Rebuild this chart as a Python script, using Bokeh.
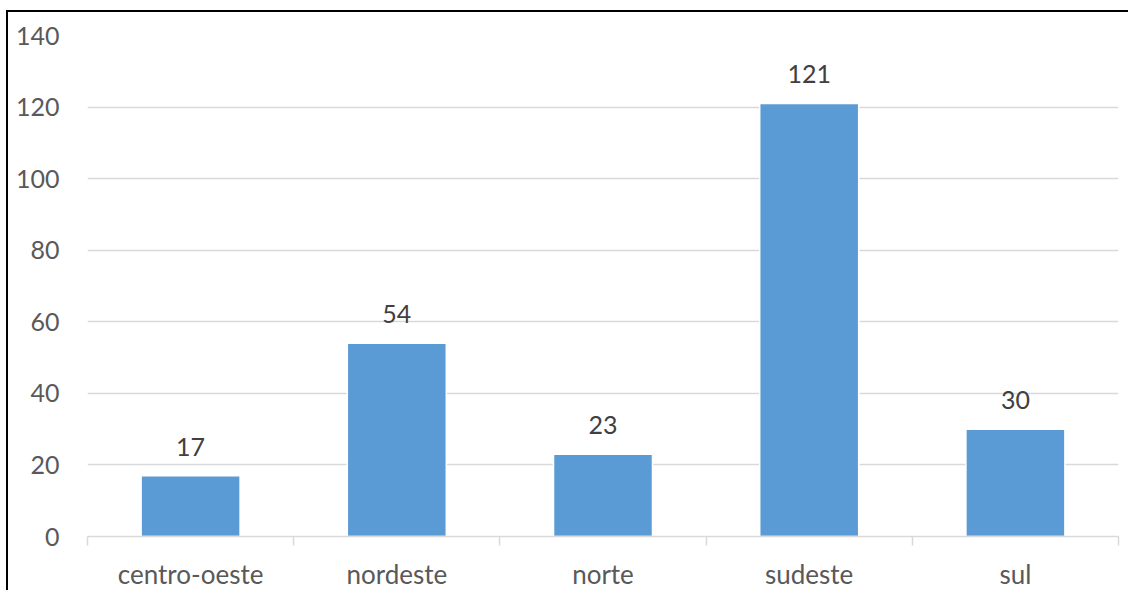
import numpy as np
from bokeh.plotting import figure
from bokeh.models import Range1d, FixedTicker, ColumnDataSource, LabelSet
from bokeh.core.properties import value
from bokeh.embed import file_html
from bokeh.resources import INLINE

categories = ["centro-oeste", "nordeste", "norte", "sudeste", "sul"]
counts = [17, 54, 23, 121, 30]
y_ticks = [0, 20, 40, 60, 80, 100, 120, 140]

FONT = "Lato"
BAR = "#5B9BD5"
GRID = "#D9D9D9"

# chart box starts after a 6px/10px offset with a 2px black left/top border
W, H = 1122, 580
ML, MR, MT, MB = 79, 12, 23, 55

xpos = np.arange(len(categories)) + 0.5
src = ColumnDataSource(dict(x=xpos, top=counts, lab=[str(c) for c in counts]))

p = figure(width=W, height=H, output_backend="svg", toolbar_location=None,
           x_range=Range1d(0, len(categories)), y_range=Range1d(0, 140))
p.styles = {"margin-left": "6px", "margin-top": "10px",
            "border-left": "2px solid black", "border-top": "2px solid black"}
p.min_border_left = ML
p.min_border_right = MR
p.min_border_top = MT
p.min_border_bottom = MB
p.outline_line_color = None
p.background_fill_color = "white"
p.border_fill_color = "white"

p.vbar(x="x", top="top", width=0.48, bottom=0, source=src,
       fill_color=BAR, line_color="white", line_width=1.5)

labels = LabelSet(x="x", y="top", text="lab", source=src, text_align="center",
                  text_baseline="alphabetic", y_offset=20, text_font=value(FONT),
                  text_font_size="25px", text_color="#404040")
p.add_layout(labels)

# y axis
p.yaxis.ticker = FixedTicker(ticks=y_ticks)
p.yaxis.axis_line_color = None
p.yaxis.major_tick_line_color = None
p.yaxis.major_tick_out = 0
p.yaxis.major_tick_in = 0
p.yaxis.minor_tick_line_color = None
p.yaxis.major_label_standoff = 28
p.yaxis.major_label_text_font = FONT
p.yaxis.major_label_text_font_size = "25px"
p.yaxis.major_label_text_color = "#595959"

p.ygrid.ticker = FixedTicker(ticks=y_ticks)
p.ygrid.grid_line_color = GRID
p.ygrid.grid_line_width = 1.5
p.xgrid.grid_line_color = None

# x axis: labels at centres, tick marks at category boundaries
p.xaxis.ticker = FixedTicker(ticks=list(xpos), minor_ticks=list(range(len(categories) + 1)))
p.xaxis.major_label_overrides = {float(x): c for x, c in zip(xpos, categories)}
p.xaxis.axis_line_color = GRID
p.xaxis.axis_line_width = 1.5
p.xaxis.major_tick_line_color = None
p.xaxis.major_tick_out = 0
p.xaxis.major_tick_in = 0
p.xaxis.minor_tick_line_color = GRID
p.xaxis.minor_tick_line_width = 1.5
p.xaxis.minor_tick_in = 0
p.xaxis.minor_tick_out = 9
p.xaxis.major_label_standoff = 12
p.xaxis.major_label_text_font = FONT
p.xaxis.major_label_text_font_size = "26px"
p.xaxis.major_label_text_color = "#595959"

open("out.html", "w").write(file_html(p, INLINE))
